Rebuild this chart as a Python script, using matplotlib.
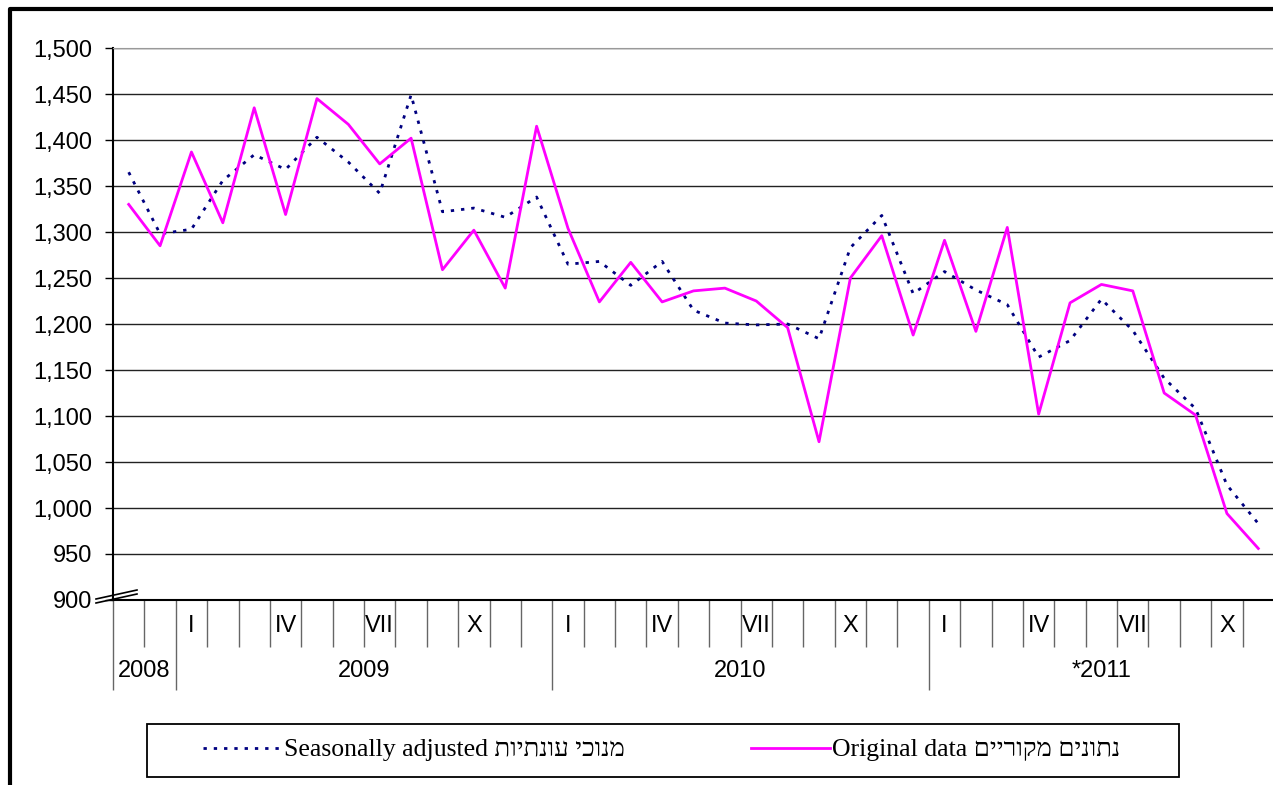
import matplotlib.pyplot as plt
from matplotlib.lines import Line2D
from matplotlib.patches import Rectangle
import numpy as np

plt.rcParams['font.family'] = ['Liberation Sans', 'DejaVu Sans']

# Nov 2008 .. Nov 2011
month_nums = [11, 12] + list(range(1, 13)) * 2 + list(range(1, 12))
roman = {1: 'I', 4: 'IV', 7: 'VII', 10: 'X'}
year_labels = ['2008', '2009', '2010', '*2011']
year_lengths = [2, 12, 12, 11]

original = [1330, 1285, 1387, 1310, 1435, 1319, 1445, 1417, 1374, 1402, 1259, 1302,
            1239, 1415, 1304, 1224, 1267, 1224, 1236, 1239, 1225, 1196, 1072, 1250,
            1296, 1188, 1291, 1192, 1305, 1102, 1223, 1243, 1236, 1125, 1101, 994, 956]
seasonal = [1365, 1298, 1303, 1356, 1384, 1368, 1403, 1376, 1342, 1449, 1322, 1326,
            1316, 1338, 1265, 1268, 1242, 1268, 1215, 1201, 1199, 1200, 1184, 1283,
            1318, 1233, 1257, 1237, 1221, 1164, 1182, 1227, 1193, 1141, 1108, 1025, 983]

heb_seasonal = 'מנוכי עונתיות'
heb_original = 'נתונים מקוריים'

W, H = 1273, 785
fig = plt.figure(figsize=(W / 100, H / 100), dpi=100)
ax = fig.add_axes([113 / W, 1 - 600 / H, 1161 / W, 552 / H])

x = np.arange(len(original))
ax.plot(x, seasonal, color='#000080', lw=2, linestyle=(0, (1.2, 2.5)))
ax.plot(x, original, color='#FF00FF', lw=2)

ax.set_xlim(-0.5, len(original) - 0.5)
ax.set_ylim(900, 1500)
ax.set_yticks(np.arange(900, 1501, 50))
ax.set_yticklabels([f'{v:,}' for v in range(900, 1501, 50)], fontsize=17)
ax.yaxis.grid(True, color='#222222', lw=1)
ax.set_axisbelow(True)
ax.tick_params(axis='y', length=6, width=1, pad=9)

# month and year boundaries below the axis
bounds = np.arange(-0.5, len(original), 1.0)
year_bounds = np.cumsum([0] + year_lengths[:-1]) - 0.5
ax.set_xticks(year_bounds)
ax.set_xticklabels([])
ax.set_xticks(bounds, minor=True)
ax.tick_params(axis='x', which='major', length=65, width=1, color='#666666')
ax.tick_params(axis='x', which='minor', length=34, width=1, color='#666666')

tr = ax.get_xaxis_transform()
for i, m in enumerate(month_nums):
    if m in roman:
        ax.text(i, -0.048, roman[m], transform=tr, ha='center', va='center', fontsize=17)
start = -0.5
for lab, n in zip(year_labels, year_lengths):
    ax.text(start + n / 2, -0.128, lab, transform=tr, ha='center', va='center', fontsize=17)
    start += n

ax.spines['right'].set_visible(False)
ax.spines['top'].set_color('#999999')
ax.spines['left'].set_linewidth(1.5)
ax.spines['bottom'].set_linewidth(1.5)

# axis break mark at 900
for dy in (0, 4):
    fig.add_artist(Line2D([96 / W, 137 / W], [1 - (603 - dy) / H, 1 - (594 - dy) / H],
                          color='black', lw=1.2))

# outer frame
fig.add_artist(Line2D([10 / W, 10 / W, 1], [0, 1 - 9 / H, 1 - 9 / H], color='black', lw=3))

# legend
fig.add_artist(Rectangle((147 / W, 1 - 777 / H), 1032 / W, 53 / H, transform=fig.transFigure,
                         fill=False, edgecolor='black', lw=1.3))
handles = [Line2D([], [], color='#000080', lw=2, linestyle=(0, (1.2, 2.5))),
           Line2D([], [], color='#FF00FF', lw=2)]
labels = ['Seasonally adjusted ' + heb_seasonal[::-1],
          'Original data ' + heb_original[::-1]]
fig.legend(handles, labels, loc='center left', bbox_to_anchor=(203 / W, 1 - 750 / H),
           ncol=2, frameon=False, borderpad=0, borderaxespad=0,
           handlelength=3.1, handletextpad=0.05, columnspacing=4.9,
           prop={'family': ['Liberation Serif', 'DejaVu Serif'], 'size': 18.5})

fig.savefig('out.png', dpi=100)
